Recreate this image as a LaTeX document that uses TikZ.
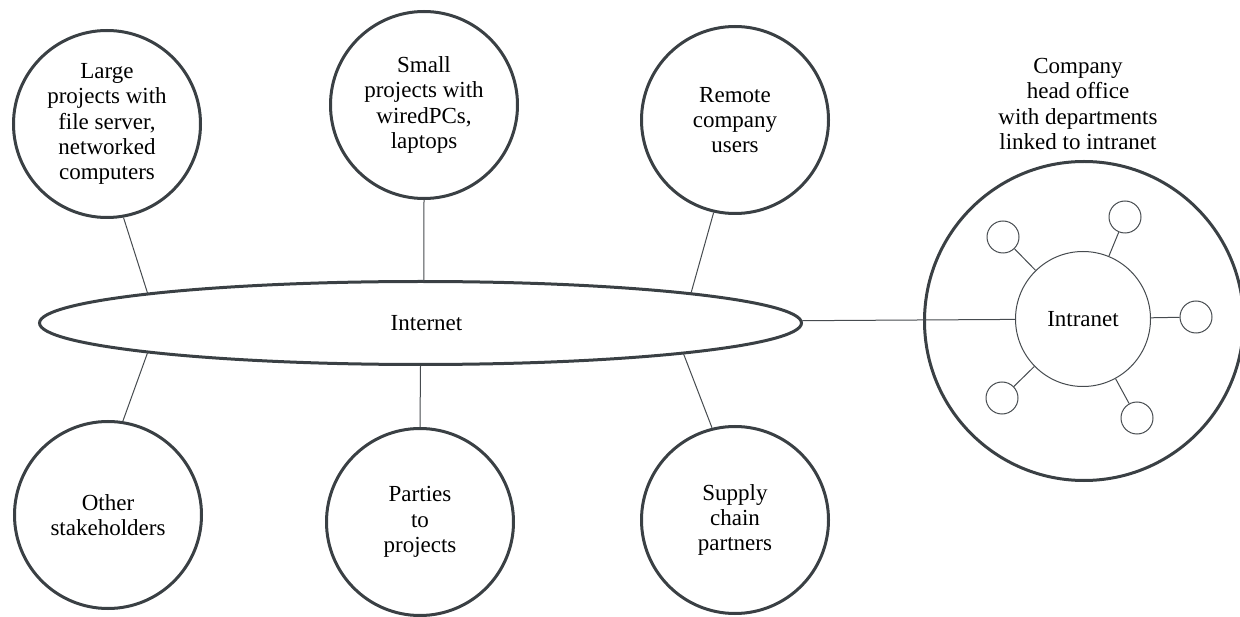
\documentclass[tikz,border=0pt]{standalone}
\usepackage{fontspec}
\setmainfont{Liberation Serif}
\usetikzlibrary{shapes.geometric, calc}
\definecolor{rim}{HTML}{3A4044}
\definecolor{wire}{HTML}{464B4F}
\begin{document}
\begin{tikzpicture}
        [x = 1pt, y = -1pt, line width = 1pt,
         every node/.style = {font = \fontsize{23}{25.3}\selectfont, align = center, inner sep = 0pt},
         hub/.style = {circle, draw = rim, line width = 3pt, minimum size = 187pt},
         dept/.style = {circle, draw = wire, minimum size = 32pt},
         link/.style = {draw = wire}]

        \useasboundingbox (0,0) rectangle (1240,617);
        \node[ellipse, draw = rim, line width = 3pt, minimum width = 762pt, minimum height = 83pt] (inet) at (420.5,323) {\hspace*{12pt}Internet};

        \node[hub] (large) at (107,124) {Large\\projects with\\file server,\\networked\\computers};
        \node[hub] (small) at (424,105) {Small\\projects with\\wiredPCs,\\laptops};
        \node[hub] (remote) at (735,120) {Remote\\company\\users};
        \node[hub] (other) at (108,515) {Other\\stakeholders};
        \node[hub] (parties) at (420,522) {Parties\\to\\projects};
        \node[hub] (supply) at (735,520) {Supply\\chain\\partners};

        \node[hub, minimum size = 319pt] (office) at (1084,321) {};
        \node[circle, draw = wire, minimum size = 135pt] (intra) at (1083,319) {Intranet};
        \node (head) at (1078,104) {Company\\head office\\with departments\\linked to intranet};
        \foreach \x/\y [count = \i] in {1003/237, 1125/217, 1196/317, 1002/398, 1137/418}
        {
          \node[dept] (d\i) at (\x,\y) {};
          \draw[link] (intra) -- (d\i);
        }

        \draw[link] (large.-80) -- ($(inet)+(135.7:381pt and 41.5pt)$);
        \draw[link] (small.south) -- ($(inet)+(89.5:381pt and 41.5pt)$);
        \draw[link] (remote.-103) -- ($(inet)+(44.8:381pt and 41.5pt)$);
        \draw[link] (other.81.8) -- ($(inet)+(224.3:381pt and 41.5pt)$);
        \draw[link] (parties.north) -- (inet.south);
        \draw[link] (supply.104.5) -- ($(inet)+(-46.4:381pt and 41.5pt)$);
        \draw[link] (inet) -- (intra);
      \end{tikzpicture}
\end{document}
